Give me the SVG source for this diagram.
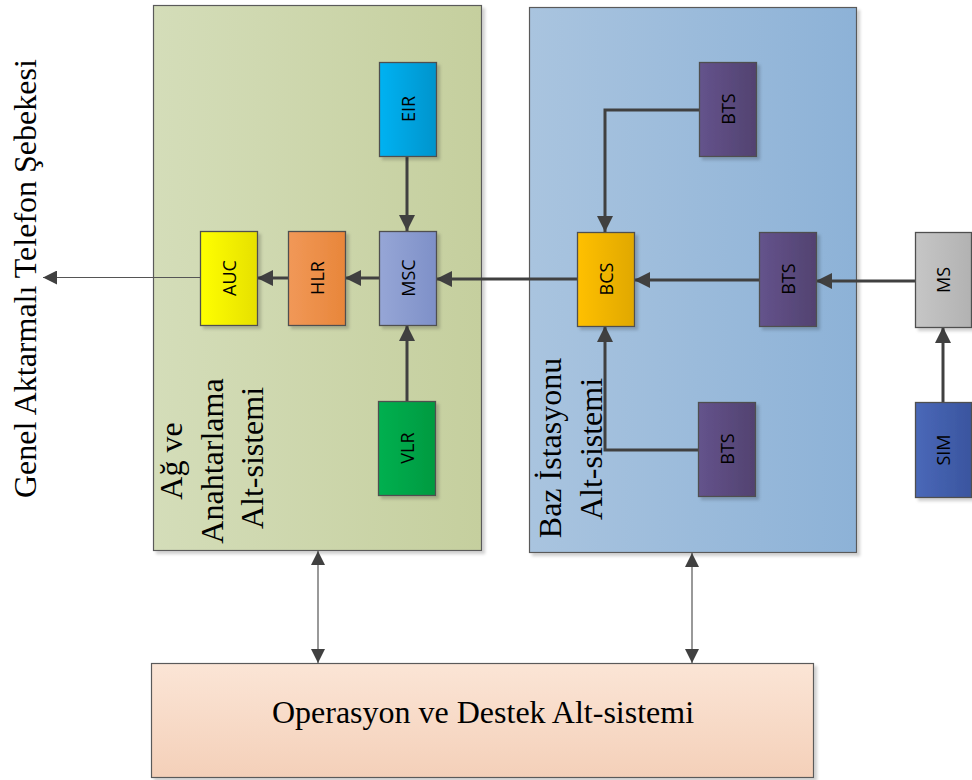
<svg xmlns="http://www.w3.org/2000/svg" width="972" height="780" viewBox="0 0 972 780">
  <defs>
    <linearGradient id="gPanelA" x1="0" y1="0" x2="1" y2="0"><stop offset="0" stop-color="#d4ddb9"/><stop offset="1" stop-color="#c5cf9e"/></linearGradient>
    <linearGradient id="gPanelB" x1="0" y1="0" x2="1" y2="0"><stop offset="0" stop-color="#a9c4df"/><stop offset="1" stop-color="#8db2d7"/></linearGradient>
    <linearGradient id="gOps" x1="0" y1="0" x2="0" y2="1"><stop offset="0" stop-color="#fbe5d6"/><stop offset="1" stop-color="#f4d0b9"/></linearGradient>
    <linearGradient id="gEIR" x1="0" y1="0" x2="1" y2="0"><stop offset="0" stop-color="#00b2f2"/><stop offset="1" stop-color="#0094cc"/></linearGradient>
    <linearGradient id="gMSC" x1="0" y1="0" x2="1" y2="0"><stop offset="0" stop-color="#96a6d6"/><stop offset="1" stop-color="#7e90c8"/></linearGradient>
    <linearGradient id="gHLR" x1="0" y1="0" x2="1" y2="0"><stop offset="0" stop-color="#f19858"/><stop offset="1" stop-color="#e8863a"/></linearGradient>
    <linearGradient id="gAUC" x1="0" y1="0" x2="1" y2="0"><stop offset="0" stop-color="#ffff00"/><stop offset="1" stop-color="#e6e000"/></linearGradient>
    <linearGradient id="gVLR" x1="0" y1="0" x2="1" y2="0"><stop offset="0" stop-color="#00b050"/><stop offset="1" stop-color="#009a40"/></linearGradient>
    <linearGradient id="gBTS" x1="0" y1="0" x2="1" y2="0"><stop offset="0" stop-color="#64538c"/><stop offset="1" stop-color="#524270"/></linearGradient>
    <linearGradient id="gBCS" x1="0" y1="0" x2="1" y2="0"><stop offset="0" stop-color="#ffc000"/><stop offset="1" stop-color="#e0a800"/></linearGradient>
    <linearGradient id="gMS" x1="0" y1="0" x2="1" y2="0"><stop offset="0" stop-color="#c6c6c6"/><stop offset="1" stop-color="#b2b2b2"/></linearGradient>
    <linearGradient id="gSIM" x1="0" y1="0" x2="1" y2="0"><stop offset="0" stop-color="#4a68b8"/><stop offset="1" stop-color="#3a559f"/></linearGradient>
    <filter id="shadow" x="-20%" y="-20%" width="150%" height="150%">
      <feDropShadow dx="3" dy="3" stdDeviation="1.5" flood-color="#000" flood-opacity="0.18"/>
    </filter>
    <marker id="arrow" viewBox="0 0 10 10" refX="10" refY="5" markerWidth="5.4" markerHeight="5.4" orient="auto-start-reverse" markerUnits="strokeWidth">
      <path d="M0,0 L10,5 L0,10 Z" fill="#404040"/>
    </marker>
    <marker id="arrowThin" viewBox="0 0 10 10" refX="10" refY="5" markerWidth="20" markerHeight="14" orient="auto-start-reverse" markerUnits="userSpaceOnUse">
      <path d="M0,0 L10,5 L0,10 Z" fill="#404040"/>
    </marker>
  </defs>
  <style>
    .panel { stroke: #5a5a5a; stroke-width: 1.2; }
    .node rect { stroke: #505050; stroke-width: 1.3; filter: url(#shadow); }
    .lbl { font-family: "Open Sans", "Noto Sans", sans-serif; font-size: 18px; fill: #000; text-anchor: middle; dominant-baseline: central; }
    .big { font-family: "Liberation Serif", "Times New Roman", serif; font-size: 32px; fill: #000; }
    .thick { stroke: #404040; stroke-width: 3; fill: none; marker-end: url(#arrow); }
    .thin { stroke: #555; stroke-width: 1.2; fill: none; }
  </style>

  <rect width="972" height="780" fill="#fff"/>

  <!-- subsystem panels -->
  <g id="panel-ag">
    <rect class="panel" x="153.5" y="5.5" width="328" height="545" fill="url(#gPanelA)" filter="url(#shadow)"/>
    <text class="big" text-anchor="middle" transform="translate(182,461) rotate(-90)">Ağ ve</text>
    <text class="big" text-anchor="middle" transform="translate(223,461) rotate(-90)">Anahtarlama</text>
    <text class="big" text-anchor="middle" transform="translate(263,458) rotate(-90)">Alt-sistemi</text>
  </g>
  <g id="panel-baz">
    <rect class="panel" x="529.5" y="7.5" width="327" height="545" fill="url(#gPanelB)" filter="url(#shadow)"/>
    <text class="big" text-anchor="middle" transform="translate(561,448) rotate(-90)">Baz İstasyonu</text>
    <text class="big" text-anchor="middle" transform="translate(602,449) rotate(-90)">Alt-sistemi</text>
  </g>
  <g id="panel-ops">
    <rect class="panel" x="151.5" y="663.5" width="662" height="114" fill="url(#gOps)" filter="url(#shadow)"/>
    <text class="big" text-anchor="middle" x="483" y="723">Operasyon ve Destek Alt-sistemi</text>
  </g>
  <g id="pstn">
    <text class="big" text-anchor="start" transform="translate(36,498) rotate(-90)">Genel Aktarmalı Telefon Şebekesi</text>
  </g>

  <!-- connectors -->
  <g id="connectors">
    <line class="thick" x1="407" y1="156" x2="407" y2="231"/>
    <line class="thick" x1="407" y1="401" x2="407" y2="325"/>
    <line class="thick" x1="379" y1="278" x2="345" y2="278"/>
    <line class="thick" x1="288" y1="278" x2="257" y2="278"/>
    <line class="thick" x1="577" y1="279" x2="436" y2="279"/>
    <line class="thick" x1="759" y1="280" x2="634" y2="280"/>
    <line class="thick" x1="915" y1="281" x2="816" y2="281"/>
    <line class="thick" x1="943" y1="402" x2="943" y2="327"/>
    <polyline class="thick" points="699,110 605,110 605,232"/>
    <polyline class="thick" points="698,450 605,450 605,326"/>
    <line class="thin" x1="200" y1="277.5" x2="43" y2="277.5" marker-end="url(#arrowThin)"/>
    <line class="thin" x1="318" y1="551" x2="318" y2="663" marker-start="url(#arrowThin)" marker-end="url(#arrowThin)"/>
    <line class="thin" x1="692" y1="553" x2="692" y2="663" marker-start="url(#arrowThin)" marker-end="url(#arrowThin)"/>
  </g>

  <!-- network and switching nodes -->
  <g id="EIR" class="node"><rect x="379.5" y="62.5" width="57" height="94" fill="url(#gEIR)"/><text class="lbl" transform="translate(408,109) rotate(-90)">EIR</text></g>
  <g id="MSC" class="node"><rect x="379.5" y="231.5" width="57" height="94" fill="url(#gMSC)"/><text class="lbl" transform="translate(408,278) rotate(-90)">MSC</text></g>
  <g id="HLR" class="node"><rect x="288.5" y="231.5" width="57" height="94" fill="url(#gHLR)"/><text class="lbl" transform="translate(317,278) rotate(-90)">HLR</text></g>
  <g id="AUC" class="node"><rect x="200.5" y="231.5" width="57" height="94" fill="url(#gAUC)"/><text class="lbl" transform="translate(229,278) rotate(-90)">AUC</text></g>
  <g id="VLR" class="node"><rect x="378.5" y="401.5" width="57" height="94" fill="url(#gVLR)"/><text class="lbl" transform="translate(407,448) rotate(-90)">VLR</text></g>

  <!-- base station nodes -->
  <g id="BTS-1" class="node"><rect x="699.5" y="62.5" width="57" height="94" fill="url(#gBTS)"/><text class="lbl" transform="translate(728,109) rotate(-90)">BTS</text></g>
  <g id="BCS" class="node"><rect x="577.5" y="232.5" width="57" height="94" fill="url(#gBCS)"/><text class="lbl" transform="translate(606,279) rotate(-90)">BCS</text></g>
  <g id="BTS-2" class="node"><rect x="759.5" y="232.5" width="57" height="94" fill="url(#gBTS)"/><text class="lbl" transform="translate(788,279) rotate(-90)">BTS</text></g>
  <g id="BTS-3" class="node"><rect x="698.5" y="402.5" width="57" height="94" fill="url(#gBTS)"/><text class="lbl" transform="translate(727,449) rotate(-90)">BTS</text></g>

  <!-- mobile station -->
  <g id="MS" class="node"><rect x="915.5" y="232.5" width="56" height="95" fill="url(#gMS)"/><text class="lbl" transform="translate(943,280) rotate(-90)">MS</text></g>
  <g id="SIM" class="node"><rect x="915.5" y="402.5" width="56" height="95" fill="url(#gSIM)"/><text class="lbl" transform="translate(943,450) rotate(-90)">SIM</text></g>
</svg>
